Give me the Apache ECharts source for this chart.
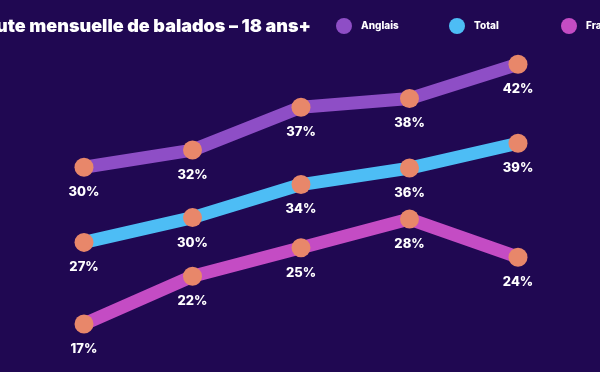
<!DOCTYPE html>
<html>
<head>
<meta charset="utf-8">
<script src="https://cdn.jsdelivr.net/npm/echarts@6/dist/echarts.min.js"></script>
<style>
html,body{margin:0;padding:0;background:#200852;}
#c{width:600px;height:372px;}
</style>
</head>
<body>
<div id="c"></div>
<script>
var titleText = 'Écoute mensuelle de balados – 18 ans+';
var categories = ['2019', '2020', '2021', '2022', '2023'];
var seriesNames = ['Anglais', 'Total', 'Français'];
var anglais = [30, 32, 37, 38, 42];
var total = [27, 30, 34, 36, 39];
var francais = [17, 22, 25, 28, 24];

var lineColors = ['#8e4ec6', '#4dbdf5', '#c44cc4'];
var markerColor = '#e8876a';
var fontFam = 'Inter, "Noto Sans", sans-serif';

// each line has its own (hidden) vertical scale, as in the infographic
var axisRanges = [[9.878, 44.823], [15.181, 51.505], [15.33, 46.75]];
var dataSets = [anglais, total, francais];

var chart = echarts.init(document.getElementById('c'));

var yAxes = axisRanges.map(function (r) {
  return { type: 'value', min: r[0], max: r[1], show: false, scale: true };
});

var series = dataSets.map(function (d, i) {
  return {
    name: seriesNames[i],
    type: 'line',
    yAxisIndex: i,
    data: d,
    symbol: 'circle',
    symbolSize: 19,
    showSymbol: true,
    lineStyle: { color: lineColors[i], width: 13, cap: 'butt', join: 'round' },
    itemStyle: { color: markerColor, borderWidth: 0 },
    label: {
      show: true,
      position: 'bottom',
      distance: 9,
      color: '#ffffff',
      fontFamily: fontFam,
      fontWeight: 800,
      fontSize: 13,
      formatter: function (p) { return p.value + '%'; }
    },
    emphasis: { disabled: true }
  };
});

var legendLefts = [336, 449, 561];
var legends = seriesNames.map(function (n, i) {
  return {
    left: legendLefts[i],
    top: 18,
    padding: 0,
    icon: 'circle',
    itemWidth: 16,
    itemHeight: 16,
    selectedMode: false,
    data: [{ name: n, itemStyle: { color: lineColors[i] } }],
    textStyle: { color: '#ffffff', fontFamily: fontFam, fontWeight: 800, fontSize: 10, padding: [0, 0, 0, 4] }
  };
});

chart.setOption({
  backgroundColor: '#200852',
  animation: false,
  title: {
    text: titleText,
    right: 289,
    top: 18,
    padding: 0,
    textStyle: { color: '#ffffff', fontFamily: fontFam, fontWeight: 900, fontSize: 18 }
  },
  legend: legends,
  grid: { left: 84, right: 82, top: 40, bottom: 32 },
  xAxis: { type: 'category', data: categories, boundaryGap: false, show: false },
  yAxis: yAxes,
  series: series
});
</script>
</body>
</html>
